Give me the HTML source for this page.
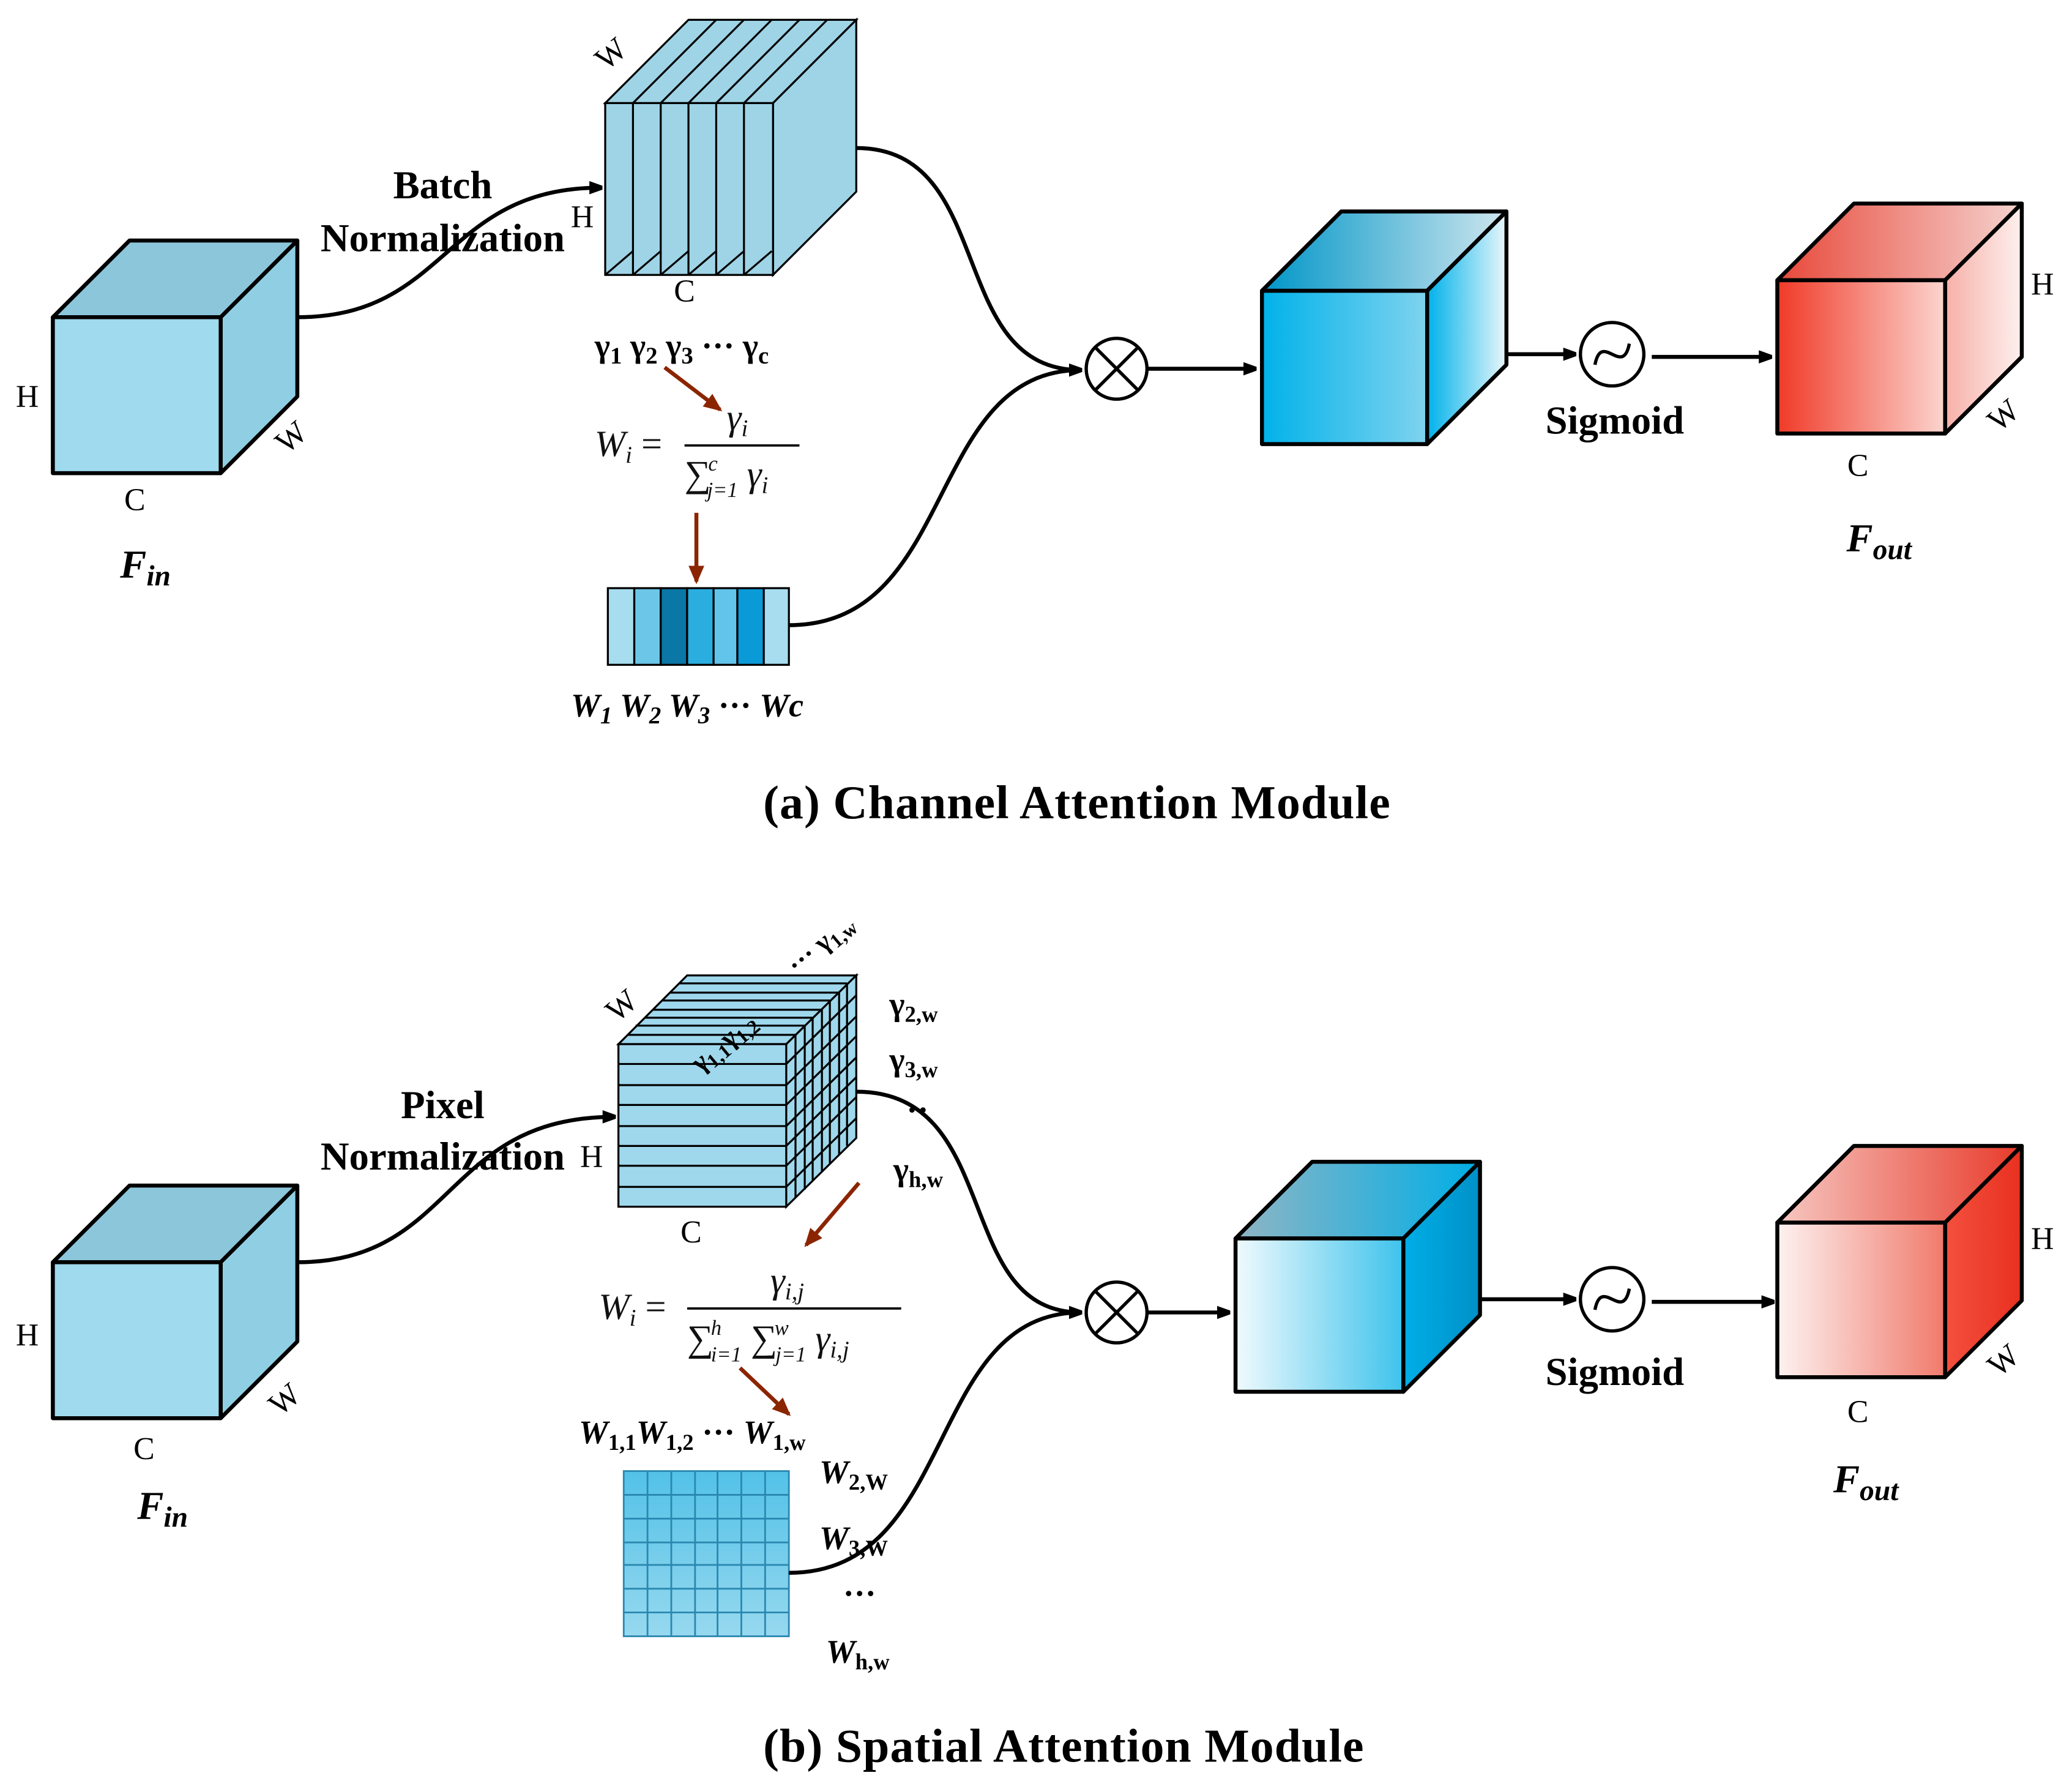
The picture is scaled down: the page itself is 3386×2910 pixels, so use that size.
<!DOCTYPE html>
<html><head><meta charset="utf-8"><style>html,body{margin:0;padding:0;background:#fff}svg{display:block}</style></head><body>
<svg width="3386" height="2910" viewBox="0 0 1568 1347.5" preserveAspectRatio="none" xmlns="http://www.w3.org/2000/svg" font-family="Liberation Serif, serif">
<defs>
<marker id="ah" markerWidth="10" markerHeight="10" refX="9" refY="5" orient="auto" markerUnits="userSpaceOnUse"><path d="M0,0 L14,5 L0,10 z" fill="#000"/></marker>
<marker id="ab" markerWidth="14" markerHeight="12" refX="12" refY="6" orient="auto" markerUnits="userSpaceOnUse"><path d="M0,0 L14,6 L0,12 z" fill="#8b2500"/></marker>
<linearGradient id="bf1" x1="0" x2="1"><stop offset="0" stop-color="#00b2ea"/><stop offset="1" stop-color="#7fd3ef"/></linearGradient>
<linearGradient id="bs1" x1="0" x2="1"><stop offset="0" stop-color="#00b2ea"/><stop offset="1" stop-color="#eaf7fb"/></linearGradient>
<linearGradient id="bt1" x1="0" x2="1"><stop offset="0" stop-color="#0096c8"/><stop offset="1" stop-color="#cfe6ee"/></linearGradient>
<linearGradient id="rf1" x1="0" x2="1"><stop offset="0" stop-color="#f03a28"/><stop offset="1" stop-color="#fbd5cf"/></linearGradient>
<linearGradient id="rs1" x1="0" x2="1"><stop offset="0" stop-color="#f7b0a8"/><stop offset="1" stop-color="#fdf0ee"/></linearGradient>
<linearGradient id="rt1" x1="0" x2="1"><stop offset="0" stop-color="#e8483a"/><stop offset="1" stop-color="#f5d3cf"/></linearGradient>
<linearGradient id="bf2" x1="0" x2="1"><stop offset="0" stop-color="#f0fafd"/><stop offset="1" stop-color="#3ec3ec"/></linearGradient>
<linearGradient id="bs2" x1="0" x2="1"><stop offset="0" stop-color="#00aee6"/><stop offset="1" stop-color="#0090c8"/></linearGradient>
<linearGradient id="bt2" x1="0" x2="1"><stop offset="0" stop-color="#8fb5c4"/><stop offset="1" stop-color="#00aee6"/></linearGradient>
<linearGradient id="rf2" x1="0" x2="1"><stop offset="0" stop-color="#fdf2f0"/><stop offset="1" stop-color="#f07a6c"/></linearGradient>
<linearGradient id="rs2" x1="0" x2="1"><stop offset="0" stop-color="#f4503e"/><stop offset="1" stop-color="#e83020"/></linearGradient>
<linearGradient id="rt2" x1="0" x2="1"><stop offset="0" stop-color="#f6c8c2"/><stop offset="1" stop-color="#e83a2a"/></linearGradient>
<linearGradient id="gc" x1="0" y1="0" x2="0" y2="1"><stop offset="0" stop-color="#00a6de"/><stop offset="1" stop-color="#9edcf0"/></linearGradient>
</defs>
<g stroke="#000" stroke-width="3" stroke-linejoin="round">
<polygon points="40,240 98,182 225,182 167,240" fill="#8cc6db"/>
<polygon points="167,240 225,182 225,300 167,358" fill="#90cfe3"/>
<rect x="40" y="240" width="127" height="118" fill="#9fdaee"/>
<polygon points="40,955 98,897 225,897 167,955" fill="#8cc6db"/>
<polygon points="167,955 225,897 225,1015 167,1073" fill="#90cfe3"/>
<rect x="40" y="955" width="127" height="118" fill="#9fdaee"/>
</g>
<g stroke="#000" stroke-width="1.5" fill="#9fd4e6">
<polygon points="458,78 521,15 648,15 585,78"/>
<polygon points="585,78 648,15 648,145 585,208"/>
<rect x="458" y="78" width="127" height="130"/>
<path d="M479,78 V208 M500,78 V208 M521,78 V208 M542,78 V208 M563,78 V208 M479,78 L542,15 M500,78 L563,15 M521,78 L584,15 M542,78 L605,15 M563,78 L626,15 M458,208 L479,190 M479,208 L500,190 M500,208 L521,190 M521,208 L542,190 M542,208 L563,190 M563,208 L584,190" fill="none"/>
</g>
<g stroke="#000" stroke-width="1.5" fill="#9fd8ec">
<polygon points="468,790 520,738 648,738 595,790"/>
<polygon points="595,790 648,738 648,861 595,913"/>
<rect x="468" y="790" width="127" height="123"/>
<path d="M468,805 H595 M468,821 H595 M468,836 H595 M468,852 H595 M468,867 H595 M468,882 H595 M468,898 H595 M475,783 H602 M481,776 H609 M488,770 H615 M494,764 H622 M501,757 H628 M507,751 H635 M514,744 H641 M602,783 V906 M609,776 V900 M615,770 V893 M622,764 V887 M628,757 V880 M635,751 V874 M641,744 V867 M595,805 L648,753 M595,821 L648,769 M595,836 L648,784 M595,852 L648,800 M595,867 L648,815 M595,882 L648,830 M595,898 L648,846" fill="none"/>
</g>
<g stroke="#000" stroke-width="1.5">
<rect x="460" y="445" width="20" height="58" fill="#a8ddf0"/>
<rect x="480" y="445" width="20" height="58" fill="#6cc6e8"/>
<rect x="500" y="445" width="20" height="58" fill="#0a77a6"/>
<rect x="520" y="445" width="20" height="58" fill="#2aaee0"/>
<rect x="540" y="445" width="18" height="58" fill="#62c4ea"/>
<rect x="558" y="445" width="20" height="58" fill="#0a9ad8"/>
<rect x="578" y="445" width="19" height="58" fill="#a8ddf0"/>
</g>
<rect x="472" y="1113" width="125" height="125" fill="url(#gc)" opacity="0.85"/>
<rect x="472" y="1113" width="125" height="125" fill="#7fd0ec" opacity="0.5"/>
<g stroke="#2a88b0" stroke-width="1.3" fill="none">
<rect x="472" y="1113" width="125" height="125"/>
<path d="M490,1113 V1238 M508,1113 V1238 M526,1113 V1238 M543,1113 V1238 M561,1113 V1238 M579,1113 V1238 M472,1131 H597 M472,1149 H597 M472,1167 H597 M472,1184 H597 M472,1202 H597 M472,1220 H597"/>
</g>
<g stroke="#000" stroke-width="3" fill="none">
<path d="M225,240 C340,240 335,142 455,142" marker-end="url(#ah)"/>
<path d="M648,112 C755,112 715,280 818,280" marker-end="url(#ah)"/>
<path d="M597,473 C725,473 700,280 818,280"/>
<path d="M868,279 L950,279" marker-end="url(#ah)"/>
<path d="M1095,268 L1192,268" marker-end="url(#ah)"/>
<path d="M1250,270 L1340,270" marker-end="url(#ah)"/>
<path d="M225,955 C345,955 335,845 465,845" marker-end="url(#ah)"/>
<path d="M648,826 C760,826 720,993 818,993" marker-end="url(#ah)"/>
<path d="M597,1190 C725,1190 700,993 818,993"/>
<path d="M868,993 L930,993" marker-end="url(#ah)"/>
<path d="M1075,983 L1192,983" marker-end="url(#ah)"/>
<path d="M1250,985 L1342,985" marker-end="url(#ah)"/>
</g>
<g stroke="#8b2500" stroke-width="3" fill="none">
<path d="M503,278 L545,310" marker-end="url(#ab)"/>
<path d="M527,388 L527,440" marker-end="url(#ab)"/>
<path d="M650,895 L610,942" marker-end="url(#ab)"/>
<path d="M560,1035 L597,1070" marker-end="url(#ab)"/>
</g>
<g stroke="#000" stroke-width="2.5" fill="#fff">
<circle cx="845" cy="279" r="23"/><path d="M829,263 L861,295 M861,263 L829,295" fill="none"/>
<circle cx="845" cy="993" r="23"/><path d="M829,977 L861,1009 M861,977 L829,1009" fill="none"/>
<circle cx="1220" cy="268" r="24"/><path d="M1207,276 C1212,250 1228,286 1233,260" fill="none"/>
<circle cx="1220" cy="983" r="24"/><path d="M1207,991 C1212,965 1228,1001 1233,975" fill="none"/>
</g>
<g stroke="#000" stroke-width="3" stroke-linejoin="round">
<polygon points="955,220 1015,160 1140,160 1080,220" fill="url(#bt1)"/>
<polygon points="1080,220 1140,160 1140,276 1080,336" fill="url(#bs1)"/>
<rect x="955" y="220" width="125" height="116" fill="url(#bf1)"/>
<polygon points="1345,212 1403,154 1530,154 1472,212" fill="url(#rt1)"/>
<polygon points="1472,212 1530,154 1530,270 1472,328" fill="url(#rs1)"/>
<rect x="1345" y="212" width="127" height="116" fill="url(#rf1)"/>
<polygon points="935,937 993,879 1120,879 1062,937" fill="url(#bt2)"/>
<polygon points="1062,937 1120,879 1120,995 1062,1053" fill="url(#bs2)"/>
<rect x="935" y="937" width="127" height="116" fill="url(#bf2)"/>
<polygon points="1345,925 1403,867 1530,867 1472,925" fill="url(#rt2)"/>
<polygon points="1472,925 1530,867 1530,984 1472,1042" fill="url(#rs2)"/>
<rect x="1345" y="925" width="127" height="117" fill="url(#rf2)"/>
</g>
<g font-size="24" fill="#000">
<text x="12" y="308">H</text>
<text x="208" y="340" transform="rotate(-40 218 330)">W</text>
<text x="94" y="386">C</text>
<text x="450" y="50" transform="rotate(-40 460 40)">W</text>
<text x="432" y="172">H</text>
<text x="510" y="228">C</text>
<text x="1537" y="223">H</text>
<text x="1505" y="323" transform="rotate(-40 1515 315)">W</text>
<text x="1398" y="360">C</text>
<text x="12" y="1018">H</text>
<text x="203" y="1068" transform="rotate(-40 213 1058)">W</text>
<text x="101" y="1104">C</text>
<text x="458" y="770" transform="rotate(-40 468 760)">W</text>
<text x="439" y="883">H</text>
<text x="515" y="940">C</text>
<text x="1537" y="945">H</text>
<text x="1505" y="1038" transform="rotate(-40 1515 1030)">W</text>
<text x="1398" y="1076">C</text>
</g>
<g font-size="30" font-weight="bold" text-anchor="middle">
<text x="335" y="150">Batch</text>
<text x="335" y="190">Normalization</text>
<text x="335" y="846">Pixel</text>
<text x="335" y="885">Normalization</text>
<text x="1222" y="328">Sigmoid</text>
<text x="1222" y="1048">Sigmoid</text>
</g>
<g font-size="30" font-weight="bold" font-style="italic" text-anchor="middle">
<text x="110" y="437">F<tspan font-size="22" dy="6">in</tspan></text>
<text x="1422" y="417">F<tspan font-size="22" dy="6">out</tspan></text>
<text x="123" y="1149">F<tspan font-size="22" dy="6">in</tspan></text>
<text x="1412" y="1129">F<tspan font-size="22" dy="6">out</tspan></text>
</g>
<g font-size="36" font-weight="bold" text-anchor="middle" letter-spacing="0.5">
<text x="815" y="619">(a)  Channel Attention Module</text>
<text x="805" y="1333">(b)  Spatial Attention Module</text>
</g>
<g font-size="25" font-weight="bold">
<text x="450" y="270">γ<tspan font-size="18" dy="5">1</tspan><tspan dy="-5"> γ</tspan><tspan font-size="18" dy="5">2</tspan><tspan dy="-5"> γ</tspan><tspan font-size="18" dy="5">3</tspan><tspan dy="-5"> ··· γ</tspan><tspan font-size="18" dy="5">c</tspan></text>
<text x="432" y="542" font-style="italic">W<tspan font-size="18" dy="5">1</tspan><tspan dy="-5"> W</tspan><tspan font-size="18" dy="5">2</tspan><tspan dy="-5"> W</tspan><tspan font-size="18" dy="5">3</tspan><tspan dy="-5" font-style="normal"> ··· </tspan><tspan>Wc</tspan></text>
<text x="673" y="768">γ<tspan font-size="17" dy="5">2,w</tspan></text>
<text x="673" y="810">γ<tspan font-size="17" dy="5">3,w</tspan></text>
<text x="686" y="848">··</text>
<text x="676" y="893">γ<tspan font-size="17" dy="5">h,w</tspan></text>
<text x="530" y="812" transform="rotate(-40 530 812)" font-size="21">γ<tspan font-size="15" dy="4">1,1</tspan><tspan dy="-4">γ</tspan><tspan font-size="15" dy="4">1,2</tspan></text>
<text x="603" y="738" transform="rotate(-40 603 738)" font-size="21">··· γ<tspan font-size="15" dy="4">1,w</tspan></text>
<text x="438" y="1092" font-style="italic">W<tspan font-size="17" dy="5" font-style="normal">1,1</tspan><tspan dy="-5">W</tspan><tspan font-size="17" dy="5" font-style="normal">1,2</tspan><tspan dy="-5" font-style="normal"> ··· </tspan>W<tspan font-size="17" dy="5" font-style="normal">1,w</tspan></text>
<text x="620" y="1122" font-style="italic">W<tspan font-size="17" dy="5" font-style="normal">2,W</tspan></text>
<text x="620" y="1172" font-style="italic">W<tspan font-size="17" dy="5" font-style="normal">3,W</tspan></text>
<text x="638" y="1214">···</text>
<text x="625" y="1258" font-style="italic">W<tspan font-size="17" dy="5" font-style="normal">h,w</tspan></text>
</g>
<g font-size="28" font-style="italic" fill="#111">
<text x="450" y="345">W<tspan font-size="18" dy="5">i</tspan><tspan dy="-5" font-style="normal"> =</tspan></text>
<text x="550" y="325">γ<tspan font-size="18" dy="5">i</tspan></text>
<line x1="518" y1="337" x2="605" y2="337" stroke="#111" stroke-width="1.8"/>
<text x="518" y="368" font-style="normal">∑<tspan font-size="16" dx="-2" dy="-12" font-style="italic">c</tspan><tspan font-size="16" dx="-8" dy="20" font-style="italic">j=1</tspan><tspan dy="-8" font-style="italic"> γ</tspan><tspan font-size="18" dy="5" font-style="italic">i</tspan></text>
<text x="453" y="998">W<tspan font-size="18" dy="5">i</tspan><tspan dy="-5" font-style="normal"> =</tspan></text>
<text x="583" y="978">γ<tspan font-size="18" dy="5">i,j</tspan></text>
<line x1="520" y1="990" x2="682" y2="990" stroke="#111" stroke-width="1.8"/>
<text x="520" y="1022" font-style="normal">∑<tspan font-size="16" dx="-2" dy="-12" font-style="italic">h</tspan><tspan font-size="16" dx="-8" dy="20" font-style="italic">i=1</tspan><tspan dy="-8"> ∑</tspan><tspan font-size="16" dx="-2" dy="-12" font-style="italic">w</tspan><tspan font-size="16" dx="-10" dy="20" font-style="italic">j=1</tspan><tspan dy="-8" font-style="italic"> γ</tspan><tspan font-size="18" dy="5" font-style="italic">i,j</tspan></text>
</g>
</svg>
</body></html>
